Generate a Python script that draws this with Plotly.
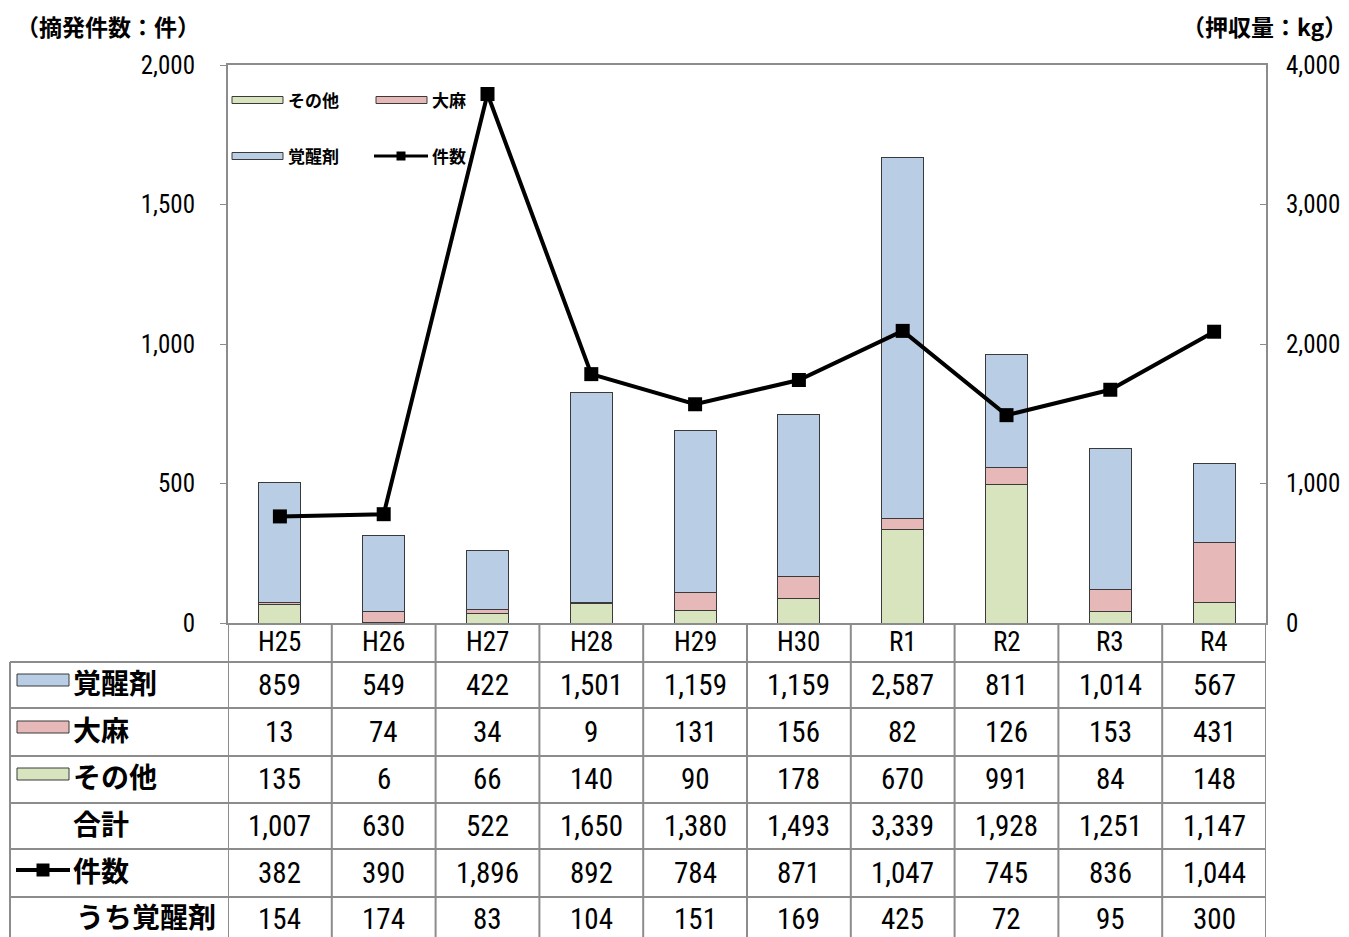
import plotly.graph_objects as go

# ---------------- data ----------------
years = ["H25", "H26", "H27", "H28", "H29", "H30", "R1", "R2", "R3", "R4"]
kakuseizai = [859, 549, 422, 1501, 1159, 1159, 2587, 811, 1014, 567]   # kg
taima = [13, 74, 34, 9, 131, 156, 82, 126, 153, 431]                     # kg
sonota = [135, 6, 66, 140, 90, 178, 670, 991, 84, 148]                   # kg
goukei = [1007, 630, 522, 1650, 1380, 1493, 3339, 1928, 1251, 1147]      # kg
kensu = [382, 390, 1896, 892, 784, 871, 1047, 745, 836, 1044]            # cases
uchi_kakuseizai = [154, 174, 83, 104, 151, 169, 425, 72, 95, 300]        # cases

# ---------------- style ----------------
W, H = 1349, 937
L, R, T, B = 228, 1266, 65, 623
C_BLUE = "#B9CDE5"
C_PINK = "#E6B9B8"
C_GREEN = "#D7E4BD"
C_EDGE = "#3a3a3a"
C_GRID = "#8c8c8c"
NUM_FONT = "Liberation Sans Narrow, Arial Narrow, Roboto Condensed, Noto Sans CJK JP, sans-serif"
JP_FONT = "Noto Sans CJK JP, sans-serif"


def px(x):
    return (x - L) / (R - L)


def py(y):
    return (B - y) / (B - T)


fig = go.Figure()

# bars on primary y (drawn on the right side, kg)
for name, vals, col in [("その他", sonota, C_GREEN), ("大麻", taima, C_PINK), ("覚醒剤", kakuseizai, C_BLUE)]:
    fig.add_trace(go.Bar(
        x=years, y=vals, name=name, yaxis="y",
        marker=dict(color=col, line=dict(color=C_EDGE, width=1)),
        width=0.405, showlegend=False, hoverinfo="skip",
    ))

# line on secondary y (drawn on the left side, cases) -> drawn above bars
fig.add_trace(go.Scatter(
    x=years, y=kensu, name="件数", yaxis="y2", mode="lines+markers",
    line=dict(color="black", width=4),
    marker=dict(symbol="square", size=14, color="black"),
    showlegend=False, hoverinfo="skip",
))

shapes = []
annotations = []

# ---------- in-plot legend ----------
def rect_swatch(x0, x1, yc, h, col):
    shapes.append(dict(type="rect", xref="paper", yref="paper",
                       x0=px(x0), x1=px(x1), y0=py(yc + h / 2), y1=py(yc - h / 2),
                       fillcolor=col, line=dict(color=C_EDGE, width=1)))


def line_swatch(x0, x1, yc, lw, ms):
    shapes.append(dict(type="line", xref="paper", yref="paper",
                       x0=px(x0), x1=px(x1), y0=py(yc), y1=py(yc),
                       line=dict(color="black", width=lw)))
    xm = (x0 + x1) / 2
    shapes.append(dict(type="rect", xref="paper", yref="paper",
                       x0=px(xm - ms / 2), x1=px(xm + ms / 2), y0=py(yc + ms / 2), y1=py(yc - ms / 2),
                       fillcolor="black", line=dict(color="black", width=0)))


def label(x, y, text, size, anchor="left", bold=True, family=JP_FONT, yshift=0):
    annotations.append(dict(xref="paper", yref="paper", x=px(x), y=py(y),
                            text=(f"<b>{text}</b>" if bold else text), showarrow=False,
                            xanchor=anchor, yanchor="middle", yshift=yshift,
                            font=dict(family=family, size=size, color="black")))


rect_swatch(232, 283, 100, 7, C_GREEN)
label(286, 100, "その他", 17, yshift=1)
rect_swatch(376, 427, 100, 7, C_PINK)
label(430, 100, "大麻", 17, yshift=1)
rect_swatch(232, 283, 156, 7, C_BLUE)
label(286, 156, "覚醒剤", 17, yshift=1)
line_swatch(374, 428, 156, 3, 9)
label(430, 156, "件数", 17, yshift=1)

# axis titles
label(14, 27, "（摘発件数：件）", 23, yshift=1)
label(1349, 27, "（押収量：kg）", 23, anchor="right", yshift=1)

# ---------- data table ----------
row_lines = [662, 708, 756, 803, 849, 897]
row_centers = [685, 732, 779, 826, 873, 919]
for yl in row_lines:
    shapes.append(dict(type="line", xref="paper", yref="paper", x0=px(10), x1=1, y0=py(yl), y1=py(yl),
                       line=dict(color=C_GRID, width=2)))
# left border of label column
shapes.append(dict(type="line", xref="paper", yref="paper", x0=px(10), x1=px(10), y0=py(row_lines[0]), y1=py(H + 5),
                   line=dict(color=C_GRID, width=2)))
# vertical column lines (category boundaries)
for k in range(len(years) + 1):
    shapes.append(dict(type="line", xref="x", yref="paper", x0=k - 0.5, x1=k - 0.5, y0=0, y1=py(H + 5),
                       line=dict(color=C_GRID, width=2)))

# header (category labels)
for i, yr in enumerate(years):
    annotations.append(dict(xref="x", yref="paper", x=i, y=py(642), text=yr, showarrow=False,
                            xanchor="center", yanchor="middle",
                            font=dict(family=NUM_FONT, size=27, color="black")))

table_rows = [
    ("覚醒剤", kakuseizai),
    ("大麻", taima),
    ("その他", sonota),
    ("合計", goukei),
    ("件数", kensu),
    ("うち覚醒剤", uchi_kakuseizai),
]
for r, (name, vals) in enumerate(table_rows):
    yc = row_centers[r]
    for i, v in enumerate(vals):
        annotations.append(dict(xref="x", yref="paper", x=i, y=py(yc), text=f"{v:,}", showarrow=False,
                                xanchor="center", yanchor="middle",
                                font=dict(family=NUM_FONT, size=29, color="black")))
    lx = 74 if name == "うち覚醒剤" else 71
    label(lx, yc, name, 28, yshift=3)

rect_swatch(17, 69, 680, 12, C_BLUE)
rect_swatch(17, 69, 727, 12, C_PINK)
rect_swatch(17, 69, 774, 12, C_GREEN)
line_swatch(16, 70, 870, 4, 13)

fig.update_layout(
    width=W, height=H,
    margin=dict(l=L, r=W - R, t=T, b=H - B, autoexpand=False),
    paper_bgcolor="white", plot_bgcolor="white",
    barmode="stack", bargap=0.6,
    showlegend=False,
    xaxis=dict(type="category", range=[-0.5, len(years) - 0.5], showline=True, linecolor=C_GRID, linewidth=2,
               mirror=True, ticks="", showticklabels=False, showgrid=False, zeroline=False, fixedrange=True,
               automargin=False),
    yaxis=dict(side="right", range=[0, 4000], dtick=1000, tickformat=",", showline=True, linecolor=C_GRID,
               linewidth=2, ticks="inside", ticklen=6, tickcolor=C_GRID, tickwidth=1, showgrid=False,
               zeroline=False, ticklabelstandoff=13, automargin=False,
               tickfont=dict(family=NUM_FONT, size=25, color="black")),
    yaxis2=dict(side="left", overlaying="y", range=[0, 2000], dtick=500, tickformat=",", showline=True,
                linecolor=C_GRID, linewidth=2, ticks="outside", ticklen=6, tickcolor=C_GRID, tickwidth=1,
                showgrid=False, zeroline=False, ticklabelstandoff=20, automargin=False,
                tickfont=dict(family=NUM_FONT, size=25, color="black")),
    shapes=shapes,
    annotations=annotations,
)

fig.write_html("out.html")
